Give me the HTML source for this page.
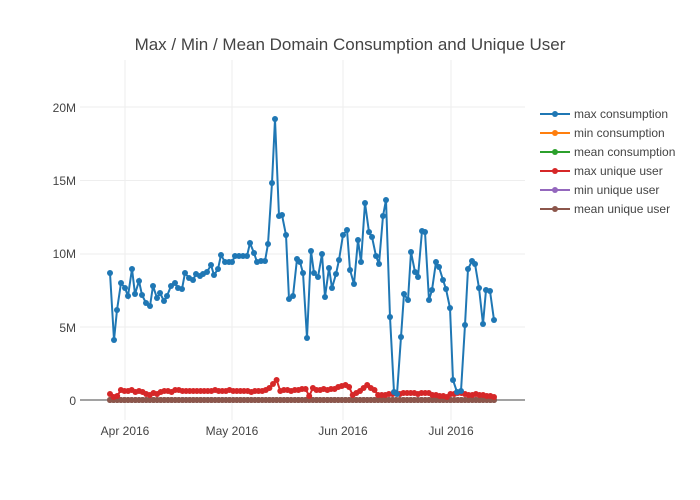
<!DOCTYPE html>
<html><head><meta charset="utf-8"><style>
body{margin:0;background:#fff;}
svg{display:block;font-family:"Liberation Sans","Open Sans",sans-serif;}
</style></head><body>
<svg id="s" width="700" height="500" viewBox="0 0 700 500">
<rect width="700" height="500" fill="#fff"/>
<text x="350" y="50" text-anchor="middle" font-size="17" fill="#444">Max / Min / Mean Domain Consumption and Unique User</text>
<g stroke="#eee" stroke-width="1">
<line x1="80" x2="525" y1="107" y2="107"/><line x1="80" x2="525" y1="180.5" y2="180.5"/>
<line x1="80" x2="525" y1="254" y2="254"/><line x1="80" x2="525" y1="327" y2="327"/>
<line x1="125" x2="125" y1="60" y2="420"/><line x1="232" x2="232" y1="60" y2="420"/>
<line x1="343" x2="343" y1="60" y2="420"/><line x1="451" x2="451" y1="60" y2="420"/>
</g>
<line x1="80" x2="525" y1="400" y2="400" stroke="#444" stroke-width="1"/>
<g font-size="12" fill="#444" text-anchor="end">
<text x="76" y="112">20M</text><text x="76" y="185">15M</text><text x="76" y="258">10M</text>
<text x="76" y="332">5M</text><text x="76" y="405">0</text></g>
<g font-size="12" fill="#444" text-anchor="middle">
<text x="125" y="435">Apr 2016</text><text x="232" y="435">May 2016</text>
<text x="343" y="435">Jun 2016</text><text x="451" y="435">Jul 2016</text></g>
<g id="series"></g>
<g font-size="12" fill="#444">
<g transform="translate(0,114)"><line x1="540" x2="570" stroke="#1f77b4" stroke-width="2"/><circle cx="555" r="3" fill="#1f77b4"/><text x="574" y="4">max consumption</text></g>
<g transform="translate(0,133)"><line x1="540" x2="570" stroke="#ff7f0e" stroke-width="2"/><circle cx="555" r="3" fill="#ff7f0e"/><text x="574" y="4">min consumption</text></g>
<g transform="translate(0,152)"><line x1="540" x2="570" stroke="#2ca02c" stroke-width="2"/><circle cx="555" r="3" fill="#2ca02c"/><text x="574" y="4">mean consumption</text></g>
<g transform="translate(0,171)"><line x1="540" x2="570" stroke="#d62728" stroke-width="2"/><circle cx="555" r="3" fill="#d62728"/><text x="574" y="4">max unique user</text></g>
<g transform="translate(0,190)"><line x1="540" x2="570" stroke="#9467bd" stroke-width="2"/><circle cx="555" r="3" fill="#9467bd"/><text x="574" y="4">min unique user</text></g>
<g transform="translate(0,209)"><line x1="540" x2="570" stroke="#8c564b" stroke-width="2"/><circle cx="555" r="3" fill="#8c564b"/><text x="574" y="4">mean unique user</text></g>
</g>
</svg>
<script>
var blue=[[110,273],[114,340],[117,310],[121,283],[125,288],[128,296],[132,269],[135,294],[139,281],[142,295],[146,303],[150,306],[153,286],[157,298],[160,293],[164,301],[167,296],[171,286],[175,283],[178,288],[182,289],[185,273],[189,278],[193,280],[196,274],[200,276],[203,274],[207,272],[211,265],[214,275],[218,269],[221,255],[225,262],[229,262],[232,262],[235,256],[239,256],[243,256],[247,256],[250,243],[254,253],[257,262],[261,261],[265,261],[268,244],[272,183],[275,119],[279,216],[282,215],[286,235],[289,299],[293,296],[297,259],[300,262],[303,273],[307,338],[311,251],[314,273],[318,277],[322,254],[325,297],[329,268],[332,288],[336,274],[339,260],[343,235],[347,230],[350,270],[354,284],[358,240],[361,262],[365,203],[369,232],[372,237],[376,256],[379,264],[383,216],[386,200],[390,317],[394,392],[397,394],[401,337],[404,294],[408,300],[411,252],[415,272],[418,277],[422,231],[425,232],[429,300],[432,290],[436,262],[439,267],[443,280],[446,289],[450,308],[453,380],[457,392],[461,391],[465,325],[468,269],[472,261],[475,264],[479,288],[483,324],[486,290],[490,291],[494,320]];
var ry=[394,397,396,390,391,391,390,392,391,392,394,395,393,394,392,391,391,392,390,390,391,391,391,391,391,391,391,391,391,390,391,391,391,390,391,391,391,391,391,392,391,391,391,390,388,384,380,391,390,390,391,390,390,389,389,396,388,390,390,389,390,389,389,387,386,385,387,395,393,391,388,385,388,390,395,395,395,394,394,393,394,393,393,393,393,394,393,393,393,395,395,396,396,397,394,394,393,393,394,395,395,394,395,395,396,396,397];
var g=document.getElementById('series'),h='';
function line(pts,c){h+='<polyline fill="none" stroke="'+c+'" stroke-width="2" points="'+pts.map(p=>p.join(',')).join(' ')+'"/>';pts.forEach(p=>{h+='<circle cx="'+p[0]+'" cy="'+p[1]+'" r="3" fill="'+c+'"/>';});}
var n=ry.length,flat=[],red=[];
for(var i=0;i<n;i++){var x=110+i*(384/(n-1));red.push([x.toFixed(1),ry[i]]);flat.push([x.toFixed(1),400]);}
['#ff7f0e','#2ca02c','#9467bd','#8c564b'].forEach(c=>line(flat,c));
line(red,'#d62728');
line(blue,'#1f77b4');
g.innerHTML=h;
</script>
</body></html>
